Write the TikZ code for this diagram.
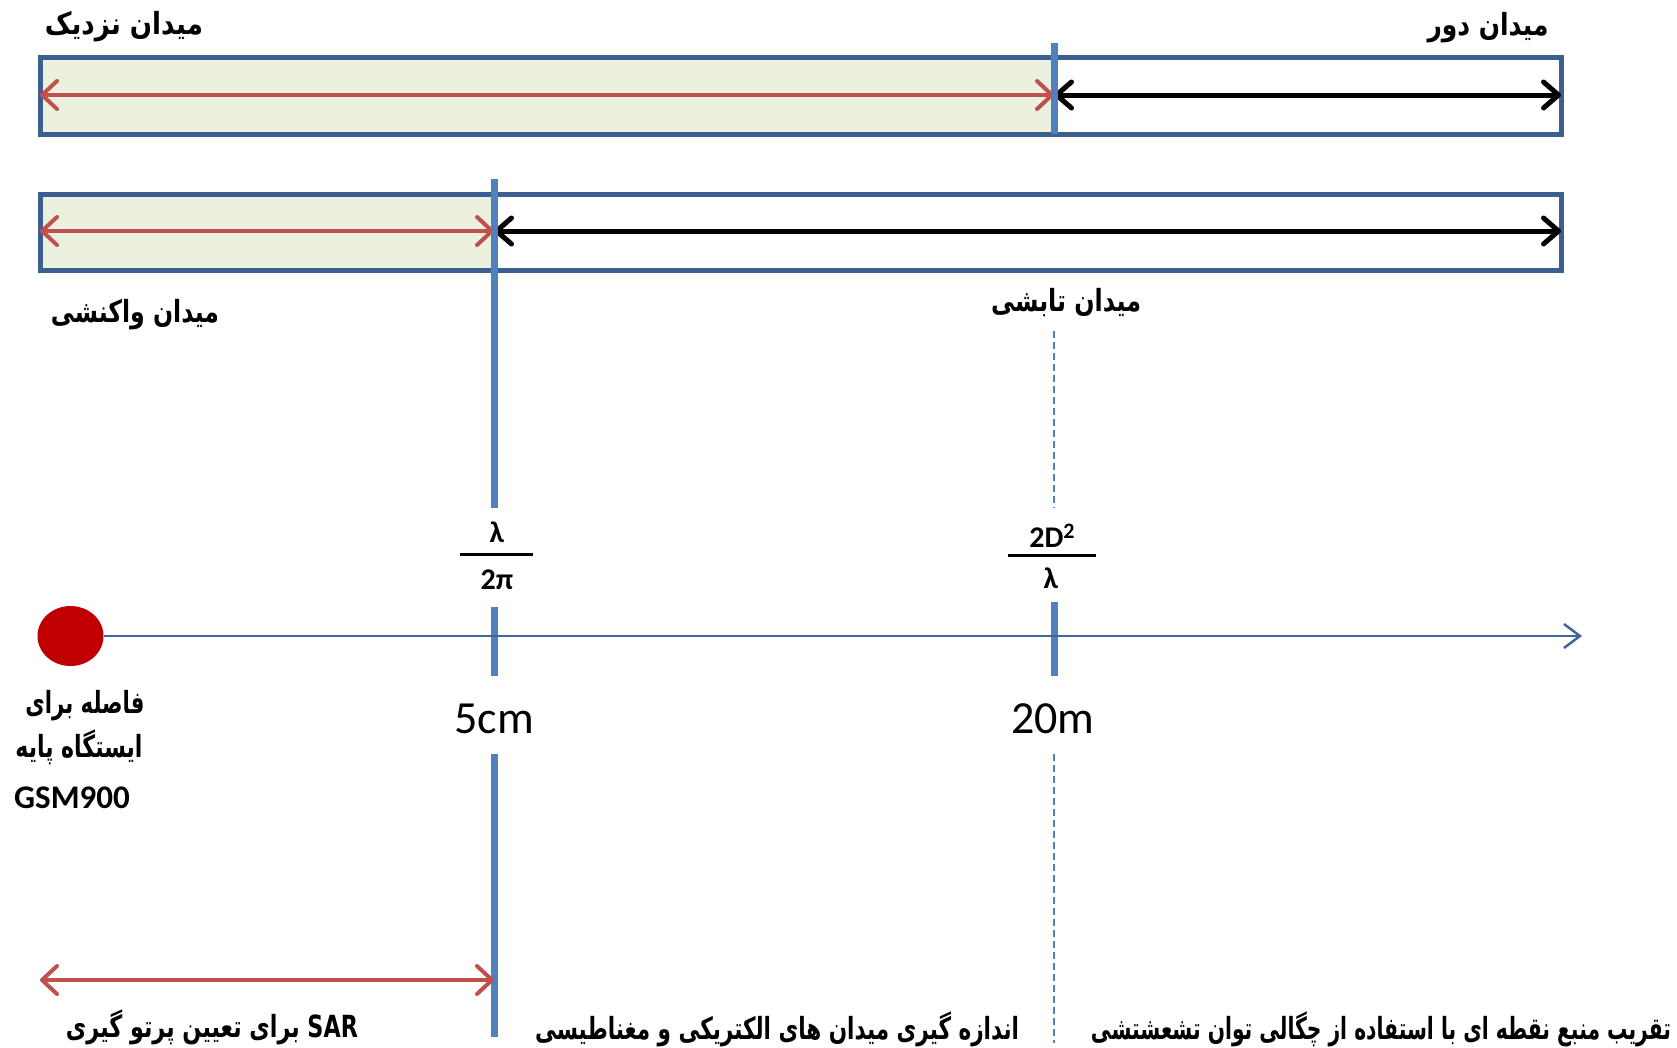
\documentclass[tikz,border=0pt]{standalone}
\usepackage{fontspec}
\usepackage{graphicx}
\setmainfont{Carlito}
\newfontfamily\fa[Script=Arabic]{DejaVu Sans}
\TeXXeTstate=1
\usetikzlibrary{arrows.meta,shapes.geometric}
\definecolor{frameblue}{HTML}{3B5F8F}
\definecolor{markblue}{HTML}{4F81BD}
\definecolor{axisblue}{HTML}{3F66A0}
\definecolor{nearred}{HTML}{C0504D}
\definecolor{nearfill}{HTML}{EBF1DE}
\definecolor{srcred}{HTML}{C00000}
% label set to a given width, stretched a little in height
\newcommand{\fitbox}[2]{\resizebox{#1pt}{1.22\height}{#2}}
\begin{document}
\begin{tikzpicture}[x=1pt,y=-1pt,
  fatxt/.style={font=\fa\bfseries\fontsize{25}{30}\selectfont, inner sep=0pt},
  band/.style={draw=frameblue, line width=5pt},
  redspan/.style={draw=nearred, line width=4pt,
    {Straight Barb[length=15pt,width=28pt,round]}-{Straight Barb[length=15pt,width=28pt,round]}},
  blackspan/.style={draw=black, line width=5pt,
    {Straight Barb[length=15pt,width=26pt,round]}-{Straight Barb[length=15pt,width=26pt,round]}},
  marker/.style={draw=markblue, line width=7pt},
  guide/.style={draw=markblue, line width=1.6pt, dash pattern=on 7pt off 4pt},
  axisline/.style={draw=axisblue, line width=2.5pt, -{Straight Barb[length=16pt,width=24pt]}},
  distlbl/.style={font=\fontsize{46}{50}\selectfont, inner sep=0pt, anchor=base},
  fraclbl/.style={font=\bfseries\fontsize{30}{34}\selectfont, inner sep=0pt},
  fracbar/.style={draw=black, line width=3pt},
]
\useasboundingbox (0,0) rectangle (1677,1047);

% ---- near / far field band ----
\fill[nearfill] (40,57) rectangle (1054,134);
\draw[band] (40,57) rectangle (1561,134);
\coordinate (nl) at (40,95);
\coordinate (nm) at (1054,95);
\coordinate (nr) at (1561,95);
\draw[redspan] (nl) -- (nm);
\draw[blackspan] (nm) -- (nr);
\coordinate (ft) at (1054,43);
\coordinate (fb) at (1054,134);
\draw[marker] (ft) -- (fb);

% ---- reactive / radiating band ----
\fill[nearfill] (40,194) rectangle (494,270);
\draw[band] (40,194) rectangle (1561,270);
\coordinate (rl) at (40,231);
\coordinate (rm) at (494,231);
\coordinate (rr) at (1561,231);
\draw[redspan] (rl) -- (rm);
\draw[blackspan] (rm) -- (rr);

% ---- vertical marker at 5cm ----
\coordinate (a1) at (494,179);
\coordinate (a2) at (494,508);
\coordinate (a3) at (494,607);
\coordinate (a4) at (494,676);
\coordinate (a5) at (494,754);
\coordinate (a6) at (494,1037);
\draw[marker] (a1) -- (a2);
\draw[marker] (a3) -- (a4);
\draw[marker] (a5) -- (a6);

% ---- vertical marker at 20m ----
\coordinate (b1) at (1054,331);
\coordinate (b2) at (1054,508);
\coordinate (b3) at (1054,602);
\coordinate (b4) at (1054,676);
\coordinate (b5) at (1054,754);
\coordinate (b6) at (1054,1043);
\draw[guide] (b1) -- (b2);
\draw[marker] (b3) -- (b4);
\draw[guide] (b5) -- (b6);

% ---- distance axis ----
\node[ellipse, fill=srcred, minimum width=66pt, minimum height=60pt, inner sep=0pt] (src) at (70.5,636) {};
\coordinate (axend) at (1582,636);
\draw[axisline] (src.east) -- (axend);

% ---- SAR span ----
\coordinate (sl) at (40,980);
\coordinate (sr) at (494,980);
\draw[redspan] (sl) -- (sr);

% ---- fractions ----
\node[fraclbl] (lam1) at (497,532) {λ};
\node[fraclbl] (twopi) at (497,580) {2π};
\draw[fracbar] (460,554) -- (533,554);
\node[fraclbl] (dd) at (1052,536) {2D\raisebox{9pt}{\fontsize{22}{24}\selectfont 2}};
\node[fraclbl] (lam2) at (1051,578) {λ};
\draw[fracbar] (1008,555) -- (1096,555);

% ---- distances ----
\node[distlbl] (d5) at (494,733) {5cm};
\node[distlbl] (d20) at (1053,733) {20m};

% ---- labels ----
\node[fatxt] (near) at (124,27) {\fitbox{158}{\beginR میدان نزدیک\endR}};
\node[fatxt] (far) at (1488,28) {\fitbox{121}{\beginR میدان دور\endR}};
\node[fatxt] (react) at (135,315) {\fitbox{168}{\beginR میدان واکنشی\endR}};
\node[fatxt] (radi) at (1066,303) {\fitbox{150}{\beginR میدان تابشی\endR}};
\node[fatxt] (bs1) at (85,706) {\fitbox{119}{\beginR فاصله برای\endR}};
\node[fatxt] (bs2) at (79,747) {\fitbox{127}{\beginR ایستگاه پایه\endR}};
\node[font=\bfseries\fontsize{33}{36}\selectfont, inner sep=0pt] (gsm) at (72,798) {GSM900};
\node[fatxt] (sar) at (212,1027) {\fitbox{292}{\beginR\beginL SAR\endL{} برای تعیین پرتو گیری\endR}};
\node[fatxt] (meas) at (777,1029) {\fitbox{484}{\beginR اندازه گیری میدان های الکتریکی و مغناطیسی\endR}};
\node[fatxt] (appr) at (1381,1029) {\fitbox{580}{\beginR تقریب منبع نقطه ای با استفاده از چگالی توان تشعشتشی\endR}};
\end{tikzpicture}
\end{document}
